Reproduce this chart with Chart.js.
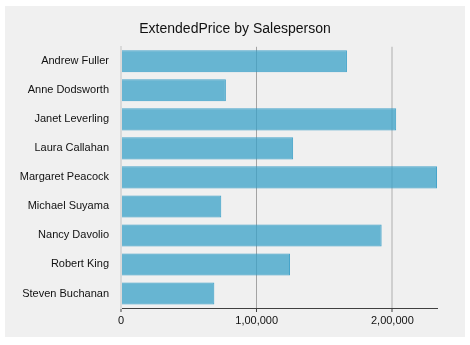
<!DOCTYPE html>
<html>
<head>
<meta charset="utf-8">
<script src="https://cdn.jsdelivr.net/npm/chart.js@4/dist/chart.umd.min.js"></script>
<style>
  html, body { margin: 0; padding: 0; background: #ffffff; }
  #panel { position: absolute; left: 5px; top: 6px; width: 460px; height: 331px; background: #f0f0f0; }
</style>
</head>
<body>
<div id="panel"><canvas id="myChart" width="460" height="331"></canvas></div>
<script>
var salespeople = ['Andrew Fuller', 'Anne Dodsworth', 'Janet Leverling', 'Laura Callahan', 'Margaret Peacock',
                   'Michael Suyama', 'Nancy Davolio', 'Robert King', 'Steven Buchanan'];
var extendedPrice = [166537.76, 77308.07, 202812.84, 126862.28, 232890.85, 73913.13, 192107.60, 124568.24, 68792.28];
var tickValues = [0, 100000, 200000];

// indian grouping: 1,00,000
function fmt(n) {
  var s = String(Math.round(n));
  if (s.length <= 3) return s;
  var last = s.slice(-3), rest = s.slice(0, -3);
  rest = rest.replace(/\B(?=(\d{2})+(?!\d))/g, ',');
  return rest + ',' + last;
}

var gridColors = ['rgba(0,0,0,0)', '#a3a3a3', '#cfcfcf'];
var labelFont = { family: 'Liberation Sans', size: 11 };

var ctx = document.getElementById('myChart').getContext('2d');
var myChart = new Chart(ctx, {
  type: 'bar',
  data: {
    labels: salespeople,
    datasets: [{
      label: 'ExtendedPrice',
      data: extendedPrice,
      backgroundColor: 'rgba(57,161,200,0.75)',
      borderColor: 'rgba(40,150,195,0.85)',
      borderWidth: 1,
      barPercentage: 0.76,
      categoryPercentage: 1
    }]
  },
  options: {
    indexAxis: 'y',
    responsive: false,
    animation: false,
    layout: { padding: 0 },
    plugins: {
      legend: { display: false },
      tooltip: { enabled: false },
      title: {
        display: true,
        text: 'ExtendedPrice by Salesperson',
        color: '#111111',
        font: { family: 'Liberation Sans', size: 14, weight: 'normal' },
        padding: { top: 15, bottom: 9 }
      }
    },
    scales: {
      x: {
        min: 0,
        max: Math.max.apply(null, extendedPrice),
        afterBuildTicks: function (scale) {
          scale.ticks = tickValues.map(function (v) { return { value: v }; });
        },
        afterFit: function (scale) { scale.height = 29; },
        grid: {
          color: function (c) { return gridColors[c.index] || '#cfcfcf'; },
          lineWidth: function (c) { return c.index === 1 ? 1 : 2; },
          tickColor: '#404040',
          tickLength: 4,
          tickWidth: 1
        },
        border: { display: true, color: '#404040', width: 1 },
        ticks: {
          color: '#111111',
          padding: 2,
          font: labelFont,
          callback: function (v) { return fmt(v); }
        }
      },
      y: {
        afterFit: function (scale) { scale.width = 116; },
        grid: { display: false, drawTicks: false },
        border: { display: true, color: '#d9d9d9', width: 2 },
        ticks: {
          color: '#111111',
          padding: 12,
          font: labelFont
        }
      },
      // empty strip on the right of the plot
      yRight: {
        type: 'category',
        position: 'right',
        afterFit: function (scale) { scale.width = 28; },
        grid: { display: false, drawTicks: false },
        border: { display: false },
        ticks: { display: false }
      }
    }
  }
});
</script>
</body>
</html>
